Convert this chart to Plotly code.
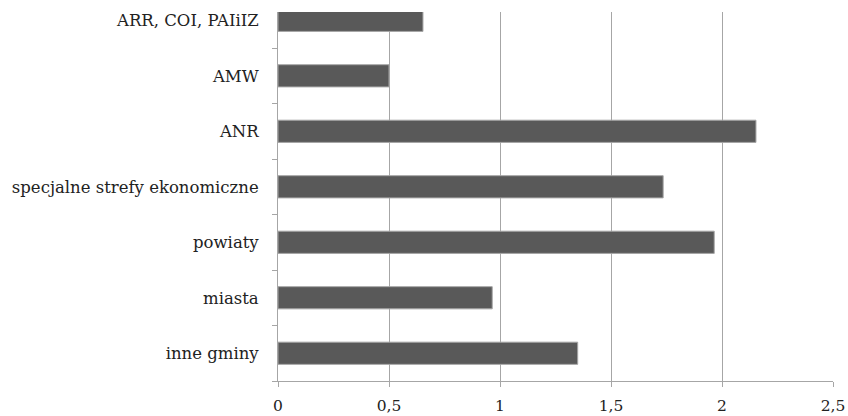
import plotly.graph_objects as go

# Categories listed bottom to top
categories = ["inne gminy", "miasta", "powiaty", "specjalne strefy ekonomiczne",
              "ANR", "AMW", "ARR, COI, PAIiIZ"]
values = [1.35, 0.965, 1.965, 1.735, 2.153, 0.5, 0.653]
x_ticks = [0, 0.5, 1, 1.5, 2, 2.5]
x_tick_labels = ["0", "0,5", "1", "1,5", "2", "2,5"]

font_family = "DejaVu Serif"
font_size = 16.5

fig = go.Figure(
    go.Bar(
        x=values,
        y=categories,
        orientation="h",
        width=0.4,
        marker=dict(color="#595959", line=dict(color="#a6a6a6", width=1)),
        hoverinfo="x+y",
    )
)

fig.update_layout(
    width=848,
    height=416,
    margin=dict(l=278, r=15, t=12, b=35),
    paper_bgcolor="white",
    plot_bgcolor="white",
    showlegend=False,
    font=dict(family=font_family, size=font_size, color="#222222"),
)

fig.update_xaxes(
    automargin=False,
    range=[0, 2.5],
    tickvals=x_ticks,
    ticktext=x_tick_labels,
    showgrid=True,
    gridcolor="#a6a6a6",
    gridwidth=1,
    zeroline=False,
    showline=True,
    linecolor="#a6a6a6",
    linewidth=1,
    ticks="outside",
    ticklen=5,
    tickcolor="#a6a6a6",
    ticklabelstandoff=5,
    tickfont=dict(family=font_family, size=15.5, color="#222222"),
)

fig.update_yaxes(
    automargin=False,
    type="category",
    categoryorder="array",
    categoryarray=categories,
    range=[-0.5, 6.15],
    showgrid=False,
    zeroline=False,
    showline=True,
    linecolor="#a6a6a6",
    linewidth=1,
    ticks="outside",
    tickson="boundaries",
    ticklen=5,
    tickcolor="#a6a6a6",
    ticklabelstandoff=15,
    tickfont=dict(family=font_family, size=font_size, color="#222222"),
)

fig.write_html("out.html")
